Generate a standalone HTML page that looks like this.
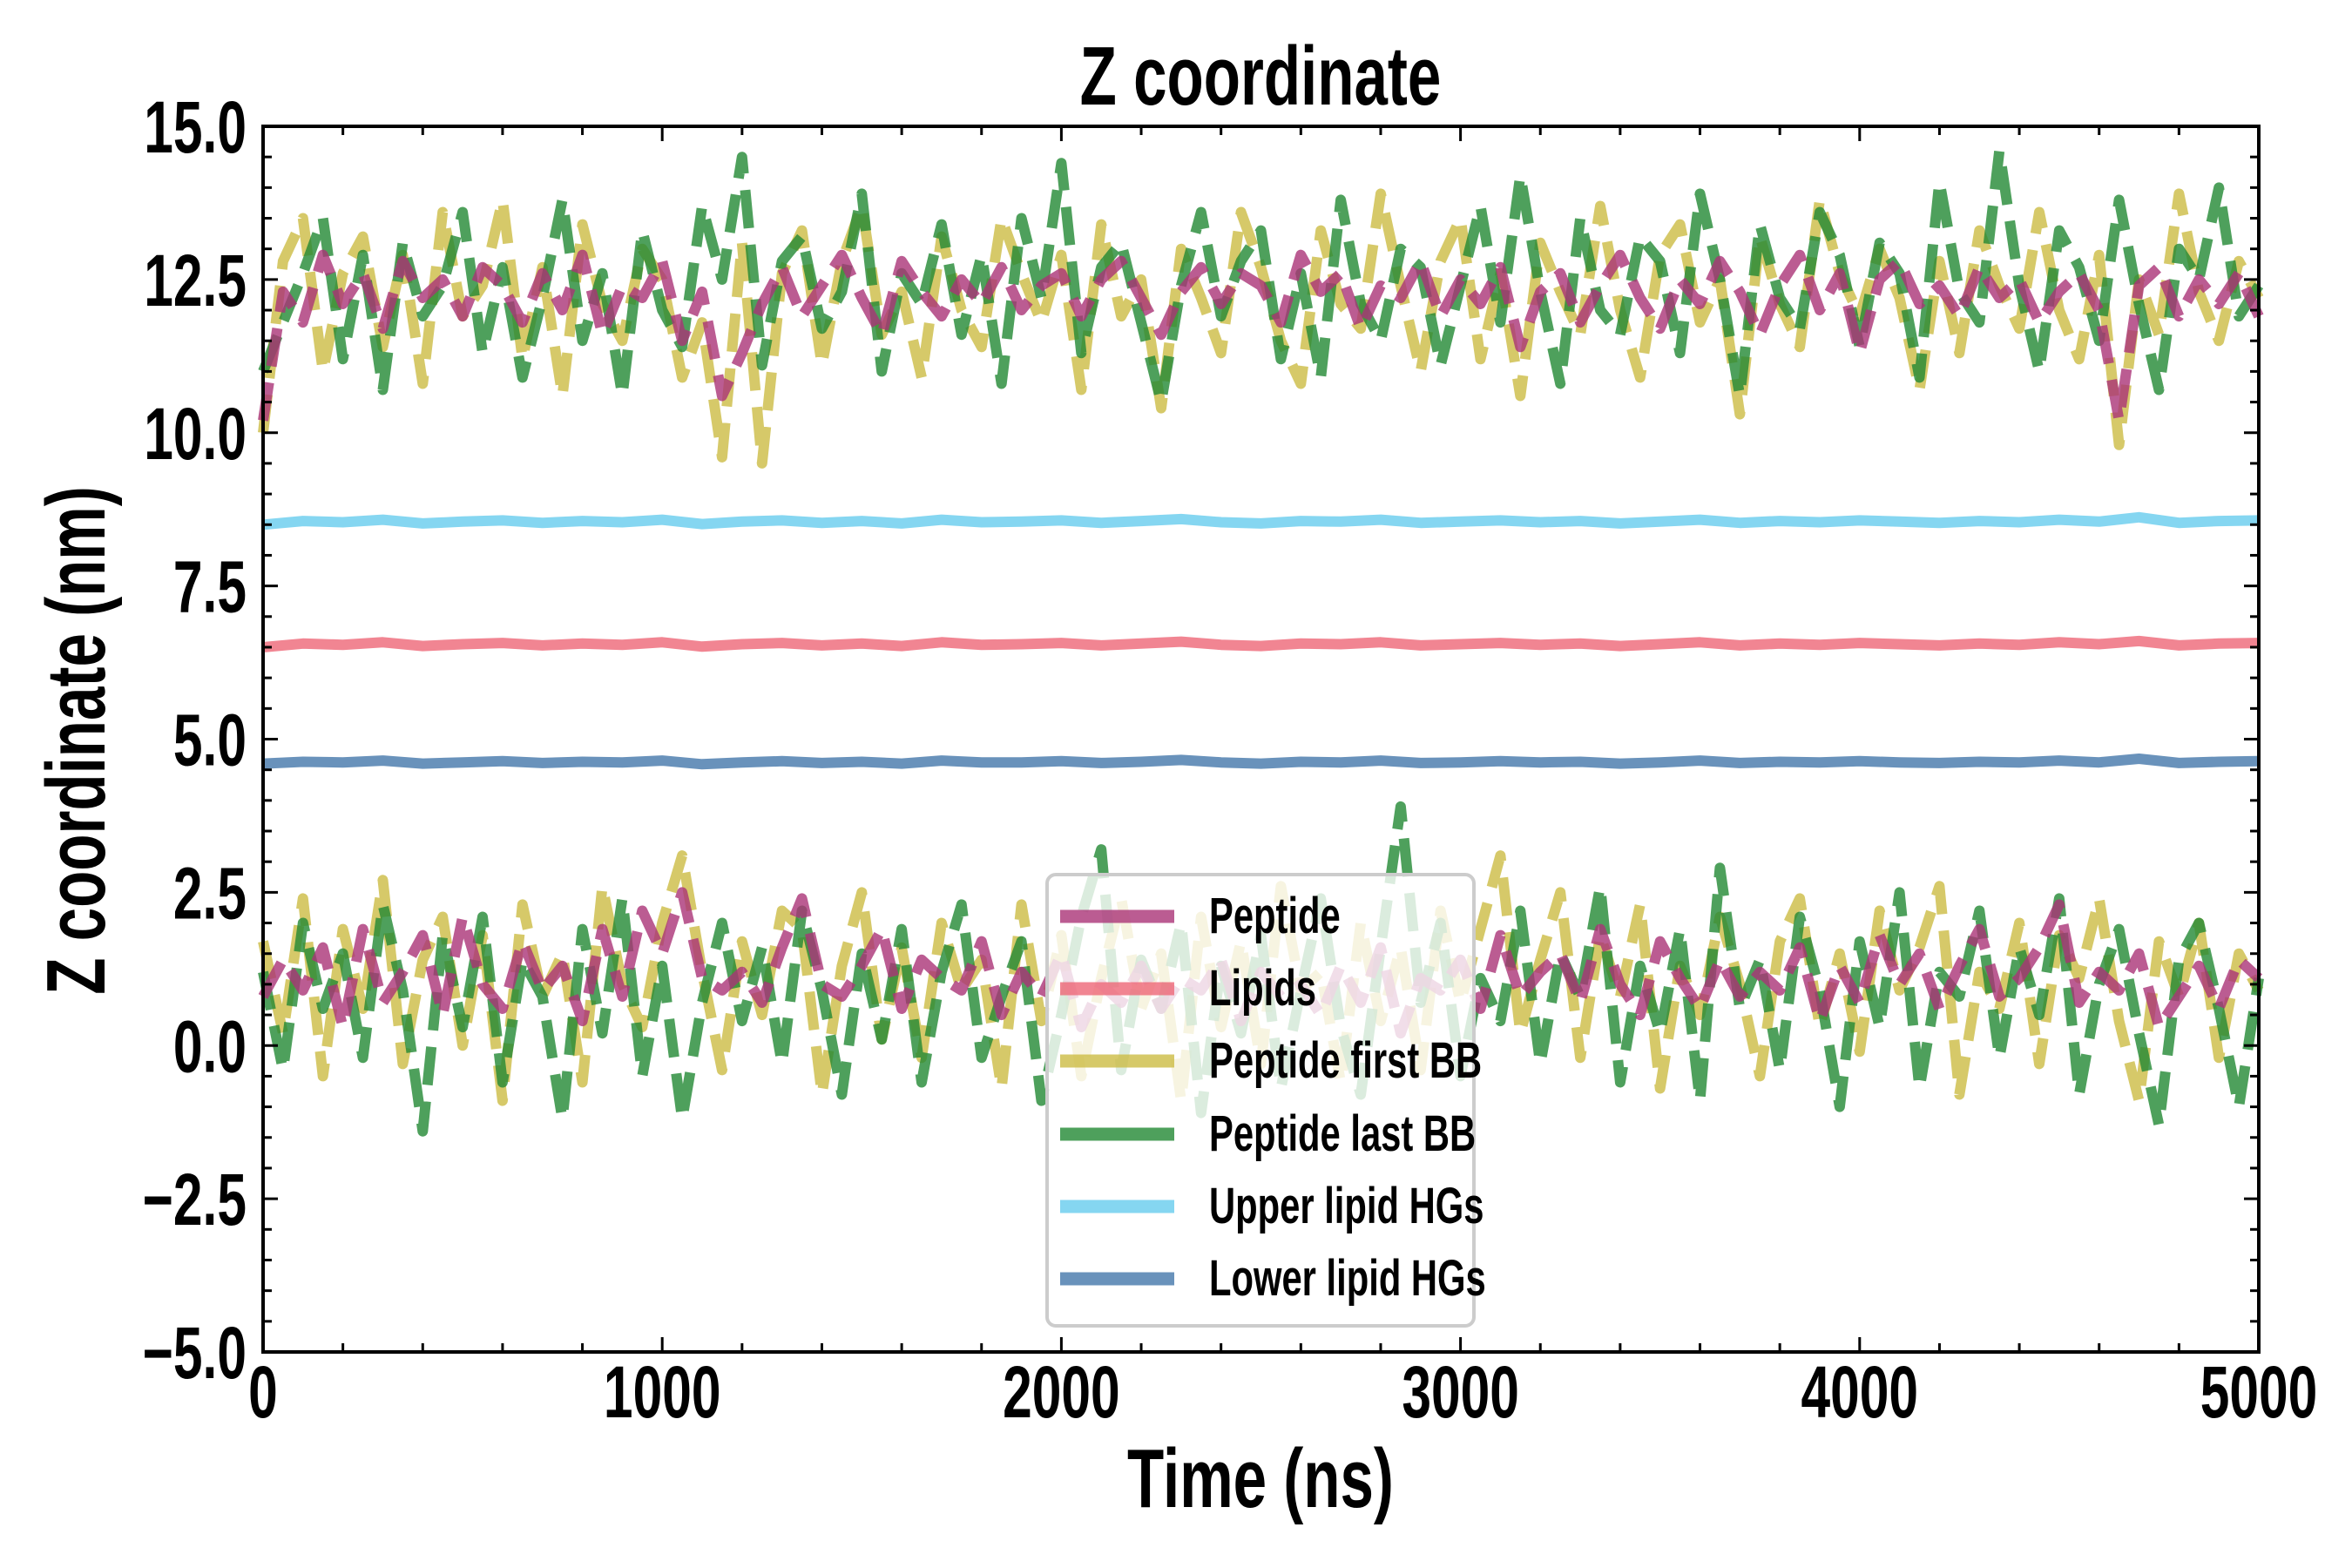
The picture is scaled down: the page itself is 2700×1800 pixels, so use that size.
<!DOCTYPE html>
<html><head><meta charset="utf-8"><style>
html,body{margin:0;padding:0;background:#fff}
svg{display:block}
text{font-family:"Liberation Sans Narrow","Liberation Sans",sans-serif;font-weight:bold;fill:#000}
</style></head><body>
<svg id="chart" width="2700" height="1800" viewBox="0 0 2700 1800" xmlns="http://www.w3.org/2000/svg">
<g id="series"></g>
<g id="axes"></g>
<text transform="translate(1447,120) scale(0.72,1)" font-size="96" text-anchor="middle">Z coordinate</text>
<text transform="translate(1447,1730) scale(0.72,1)" font-size="96" text-anchor="middle">Time (ns)</text>
<text transform="translate(120,850) rotate(-90) scale(0.72,1)" font-size="96" text-anchor="middle">Z coordinate (nm)</text>
<g id="legend"></g>
</svg>
<script>
const xTicks=[0,1000,2000,3000,4000,5000];
const xTickLabels=["0","1000","2000","3000","4000","5000"];
const yTicks=[-5,-2.5,0,2.5,5,7.5,10,12.5,15];
const yTickLabels=["\u22125.0","\u22122.5","0.0","2.5","5.0","7.5","10.0","12.5","15.0"];
const timeStep=50;
const pepUpper=[10.2,12.3,11.8,12.9,12.1,12.6,11.7,12.8,12.2,12.5,11.9,12.7,12.4,11.8,12.6,12.0,12.9,11.6,12.4,12.2,
12.8,11.5,12.3,10.6,11.3,12.1,12.7,11.9,12.4,12.9,12.2,11.6,12.8,12.3,11.9,12.5,12.1,12.7,12.0,12.4,
12.6,11.9,12.5,12.8,12.2,11.6,12.3,12.7,12.1,12.6,12.4,11.8,12.9,12.3,12.6,11.7,12.4,12.2,12.8,11.9,
12.5,12.1,12.7,11.4,12.3,12.6,11.8,12.4,12.9,12.2,11.7,12.5,12.1,12.8,12.3,11.6,12.4,12.9,12.0,12.6,
11.3,12.5,12.8,12.1,12.4,11.9,12.7,12.2,12.5,11.8,12.3,12.6,12.0,10.2,12.4,12.7,11.9,12.5,12.1,12.6,11.9];
const firstUpper=[10.0,12.8,13.5,11.0,12.6,13.2,11.4,12.9,10.8,13.6,11.9,12.4,13.8,11.2,12.7,10.6,13.4,12.1,11.5,13.0,
12.5,10.9,11.8,9.6,13.1,9.5,12.6,13.3,11.1,12.8,13.7,11.6,12.3,10.9,13.2,12.0,11.4,13.5,12.6,11.8,
12.9,10.7,13.4,11.9,12.5,10.4,13.0,12.2,11.3,13.6,12.7,11.5,10.8,13.3,12.1,11.7,13.9,12.4,11.0,12.8,
13.5,11.2,12.6,10.6,13.1,12.3,11.6,13.7,12.0,10.9,12.9,13.4,11.8,12.5,10.3,13.2,12.1,11.4,13.8,12.6,
11.9,13.0,12.2,10.7,12.8,11.3,13.3,12.4,11.7,13.6,12.0,11.2,12.9,9.8,12.5,11.6,13.9,12.3,11.5,12.8,12.2];
const lastUpper=[11.0,11.8,12.6,13.5,11.2,12.9,10.7,13.1,11.9,12.4,13.6,11.3,12.7,10.9,12.2,13.8,11.5,12.6,10.6,13.3,
12.0,11.4,13.7,12.5,14.5,11.1,12.8,13.2,11.7,12.3,13.9,11.0,12.6,12.1,13.4,11.6,12.9,10.8,13.5,12.2,
14.4,11.3,12.7,13.1,11.8,10.5,12.4,13.6,11.9,12.8,13.3,11.2,12.6,10.9,13.8,12.1,11.5,13.0,12.7,11.1,
12.4,13.7,11.8,14.2,12.3,10.8,13.5,12.0,11.6,13.2,12.8,11.3,13.9,12.5,10.6,13.4,12.2,11.7,13.6,12.9,
11.4,13.1,12.6,10.9,14.1,12.3,11.8,14.6,12.4,11.0,13.3,12.7,11.5,13.8,12.1,10.7,13.0,12.5,14.0,11.9,12.4];
const pepLower=[0.8,1.4,0.9,1.6,0.3,1.9,0.7,1.2,1.8,0.5,2.1,1.0,0.6,1.7,0.9,1.3,0.4,1.9,0.8,2.2,
1.5,2.5,1.1,0.9,1.2,0.7,1.6,2.4,1.0,0.8,1.3,1.9,0.6,1.4,1.1,0.9,1.7,0.5,1.2,0.8,
1.5,0.3,1.0,0.7,1.3,0.6,1.1,0.9,1.4,0.4,1.2,0.8,1.0,0.5,1.3,0.7,1.6,0.2,1.1,0.9,
1.4,0.6,1.8,0.8,1.2,1.5,0.7,1.9,1.0,0.5,1.7,1.1,0.6,1.4,0.8,1.2,0.9,1.6,0.4,1.3,
0.7,1.8,1.0,1.5,0.6,1.3,1.9,0.8,1.1,1.6,2.3,0.7,1.2,0.9,1.5,0.3,0.8,1.3,0.6,1.4,1.1];
const firstLower=[1.7,0.2,2.4,-0.5,1.9,0.6,2.7,-0.3,1.4,2.1,0.0,1.8,-0.9,2.3,0.8,1.5,-0.6,2.6,1.0,0.3,
2.0,3.1,1.2,-0.4,1.7,0.5,2.2,1.9,-0.8,1.3,2.5,0.1,1.6,-0.2,2.0,0.9,1.4,-0.7,2.3,0.4,
1.8,-0.5,1.1,2.4,0.6,1.5,-0.9,2.1,0.3,1.7,-0.3,2.6,0.9,1.2,-0.6,2.0,0.4,1.6,-0.4,2.2,
0.7,1.9,3.1,0.2,1.4,2.5,-0.2,1.8,0.8,2.3,-0.7,1.3,0.5,2.1,1.0,-0.5,1.7,2.4,0.3,1.5,
-0.1,2.2,0.9,1.6,2.6,-0.8,1.2,0.6,2.0,-0.3,1.8,1.1,2.4,0.4,-0.9,1.7,0.8,2.0,-0.2,1.5,0.9];
const lastLower=[1.2,-0.4,2.0,0.6,1.5,-0.2,2.3,0.9,-1.4,1.8,0.3,2.1,-0.6,1.4,0.8,-1.2,1.9,0.2,2.4,-0.5,
1.3,-1.2,0.7,2.0,0.4,1.6,-0.3,2.2,0.9,-0.8,1.5,0.1,1.9,-0.6,1.2,2.3,-0.2,0.8,1.7,-0.9,
0.5,2.1,3.2,-0.4,1.4,0.6,2.0,-1.1,1.3,0.2,1.8,-0.7,0.9,2.4,0.3,-0.8,1.6,3.9,0.7,2.0,
-0.5,1.1,0.4,2.2,-0.3,1.5,0.8,2.6,-0.6,1.3,0.2,1.9,-0.9,2.9,0.6,1.4,-0.4,2.1,0.9,-1.0,
1.7,0.3,2.5,-0.7,1.2,0.8,2.2,-0.2,1.6,0.5,2.4,-0.8,1.0,1.9,0.2,-1.3,1.4,2.0,0.6,-1.0,1.1];
const upperHG=[8.50,8.56,8.54,8.58,8.52,8.55,8.57,8.53,8.56,8.54,8.58,8.51,8.55,8.57,8.53,8.56,8.52,8.58,8.54,8.55,
8.57,8.53,8.56,8.59,8.54,8.52,8.56,8.55,8.58,8.53,8.55,8.57,8.54,8.56,8.52,8.55,8.58,8.53,8.56,8.54,
8.57,8.55,8.53,8.56,8.54,8.58,8.55,8.62,8.53,8.56,8.57];
const lipids=[6.50,6.56,6.54,6.58,6.52,6.55,6.57,6.53,6.56,6.54,6.58,6.51,6.55,6.57,6.53,6.56,6.52,6.58,6.54,6.55,
6.57,6.53,6.56,6.59,6.54,6.52,6.56,6.55,6.58,6.53,6.55,6.57,6.54,6.56,6.52,6.55,6.58,6.53,6.56,6.54,
6.57,6.55,6.53,6.56,6.54,6.58,6.55,6.60,6.53,6.56,6.57];
const lowerHG=[4.60,4.63,4.62,4.65,4.60,4.62,4.64,4.61,4.63,4.62,4.65,4.59,4.62,4.64,4.61,4.63,4.60,4.65,4.62,4.62,
4.64,4.61,4.63,4.66,4.62,4.60,4.63,4.62,4.65,4.61,4.62,4.64,4.62,4.63,4.60,4.62,4.65,4.61,4.63,4.62,
4.64,4.62,4.61,4.63,4.62,4.65,4.62,4.68,4.61,4.63,4.64];

const NS="http://www.w3.org/2000/svg";
const L=302,R=2593,T=145,B=1552;
const SX=0.72;
function xs(t){return L+(t-0)/(5000-0)*(R-L);}
function ys(v){return B-(v-(-5))/(15-(-5))*(B-T);}
function mk(tag,attrs,parent){const e=document.createElementNS(NS,tag);for(const k in attrs)e.setAttribute(k,attrs[k]);parent.appendChild(e);return e;}
function txt(x,y,size,anchor,str,parent){
  const e=mk('text',{transform:"translate("+x+","+y+") scale("+SX+",1)","font-size":size,"text-anchor":anchor},parent);
  e.textContent=str;return e;
}
const series=document.getElementById('series');
function drawLine(vals,step,color,dashed,name){
  let d="";vals.forEach((v,i)=>{d+=(i?"L":"M")+xs(i*step).toFixed(1)+","+ys(v).toFixed(1);});
  const p=mk('path',{d:d,fill:"none",stroke:color,"stroke-width":12,"stroke-opacity":0.8,"stroke-linejoin":"round"},series);
  if(dashed)p.setAttribute('stroke-dasharray','44 19');
  
  
}
const hgStep=100;
drawLine(upperHG,hgStep,"#66CCEE",false,'upper-lipid-hgs-line');
drawLine(lipids,hgStep,"#EE6677",false,'lipids-line');
drawLine(lowerHG,hgStep,"#4477AA",false,'lower-lipid-hgs-line');
drawLine(firstUpper,timeStep,"#CCBB44",true,'peptide-first-bb-upper-line');
drawLine(firstLower,timeStep,"#CCBB44",true,'peptide-first-bb-lower-line');
drawLine(lastUpper,timeStep,"#228833",true,'peptide-last-bb-upper-line');
drawLine(lastLower,timeStep,"#228833",true,'peptide-last-bb-lower-line');
drawLine(pepUpper,timeStep,"#AA3377",true,'peptide-upper-line');
drawLine(pepLower,timeStep,"#AA3377",true,'peptide-lower-line');

const axes=document.getElementById('axes');
const frame=mk('rect',{x:L,y:T,width:R-L,height:B-T,fill:"none",stroke:"#000","stroke-width":4},axes);


for(let t=0;t<=5000;t+=200){
  const x=xs(t);const major=(t%1000===0);const len=major?17:10;
  mk('line',{x1:x,y1:B,x2:x,y2:B-len,stroke:"#000","stroke-width":3},axes);
  mk('line',{x1:x,y1:T,x2:x,y2:T+len,stroke:"#000","stroke-width":3},axes);
}
for(let k=0;k<=40;k++){
  const v=-5+k*0.5;const y=ys(v);const major=(k%5===0);const len=major?17:10;
  mk('line',{x1:L,y1:y,x2:L+len,y2:y,stroke:"#000","stroke-width":3},axes);
  mk('line',{x1:R,y1:y,x2:R-len,y2:y,stroke:"#000","stroke-width":3},axes);
}
xTicks.forEach((t,i)=>{
  const tx=txt(xs(t),1627,84,"middle",xTickLabels[i],axes);
  
  
});
yTicks.forEach((v,i)=>{
  const tx=txt(283,ys(v)+30,84,"end",yTickLabels[i],axes);
  
  
});

const legend=document.getElementById('legend');
mk('rect',{x:1202,y:1004,width:490,height:518,rx:10,fill:"#fff","fill-opacity":0.8,stroke:"#cccccc","stroke-width":4},legend);
const legendLabels=["Peptide","Lipids","Peptide first BB","Peptide last BB","Upper lipid HGs","Lower lipid HGs"];
const legendColors=["#AA3377","#EE6677","#CCBB44","#228833","#66CCEE","#4477AA"];
const rowY=[1052,1135,1218,1302,1385,1468];
legendLabels.forEach((lab,i)=>{
  const ln=mk('line',{x1:1217,y1:rowY[i],x2:1348,y2:rowY[i],stroke:legendColors[i],"stroke-width":15,"stroke-opacity":0.8},legend);
  
  
  const tx=txt(1388,rowY[i]+19,58,"start",lab,legend);
  
  
});
</script>
</body></html>
